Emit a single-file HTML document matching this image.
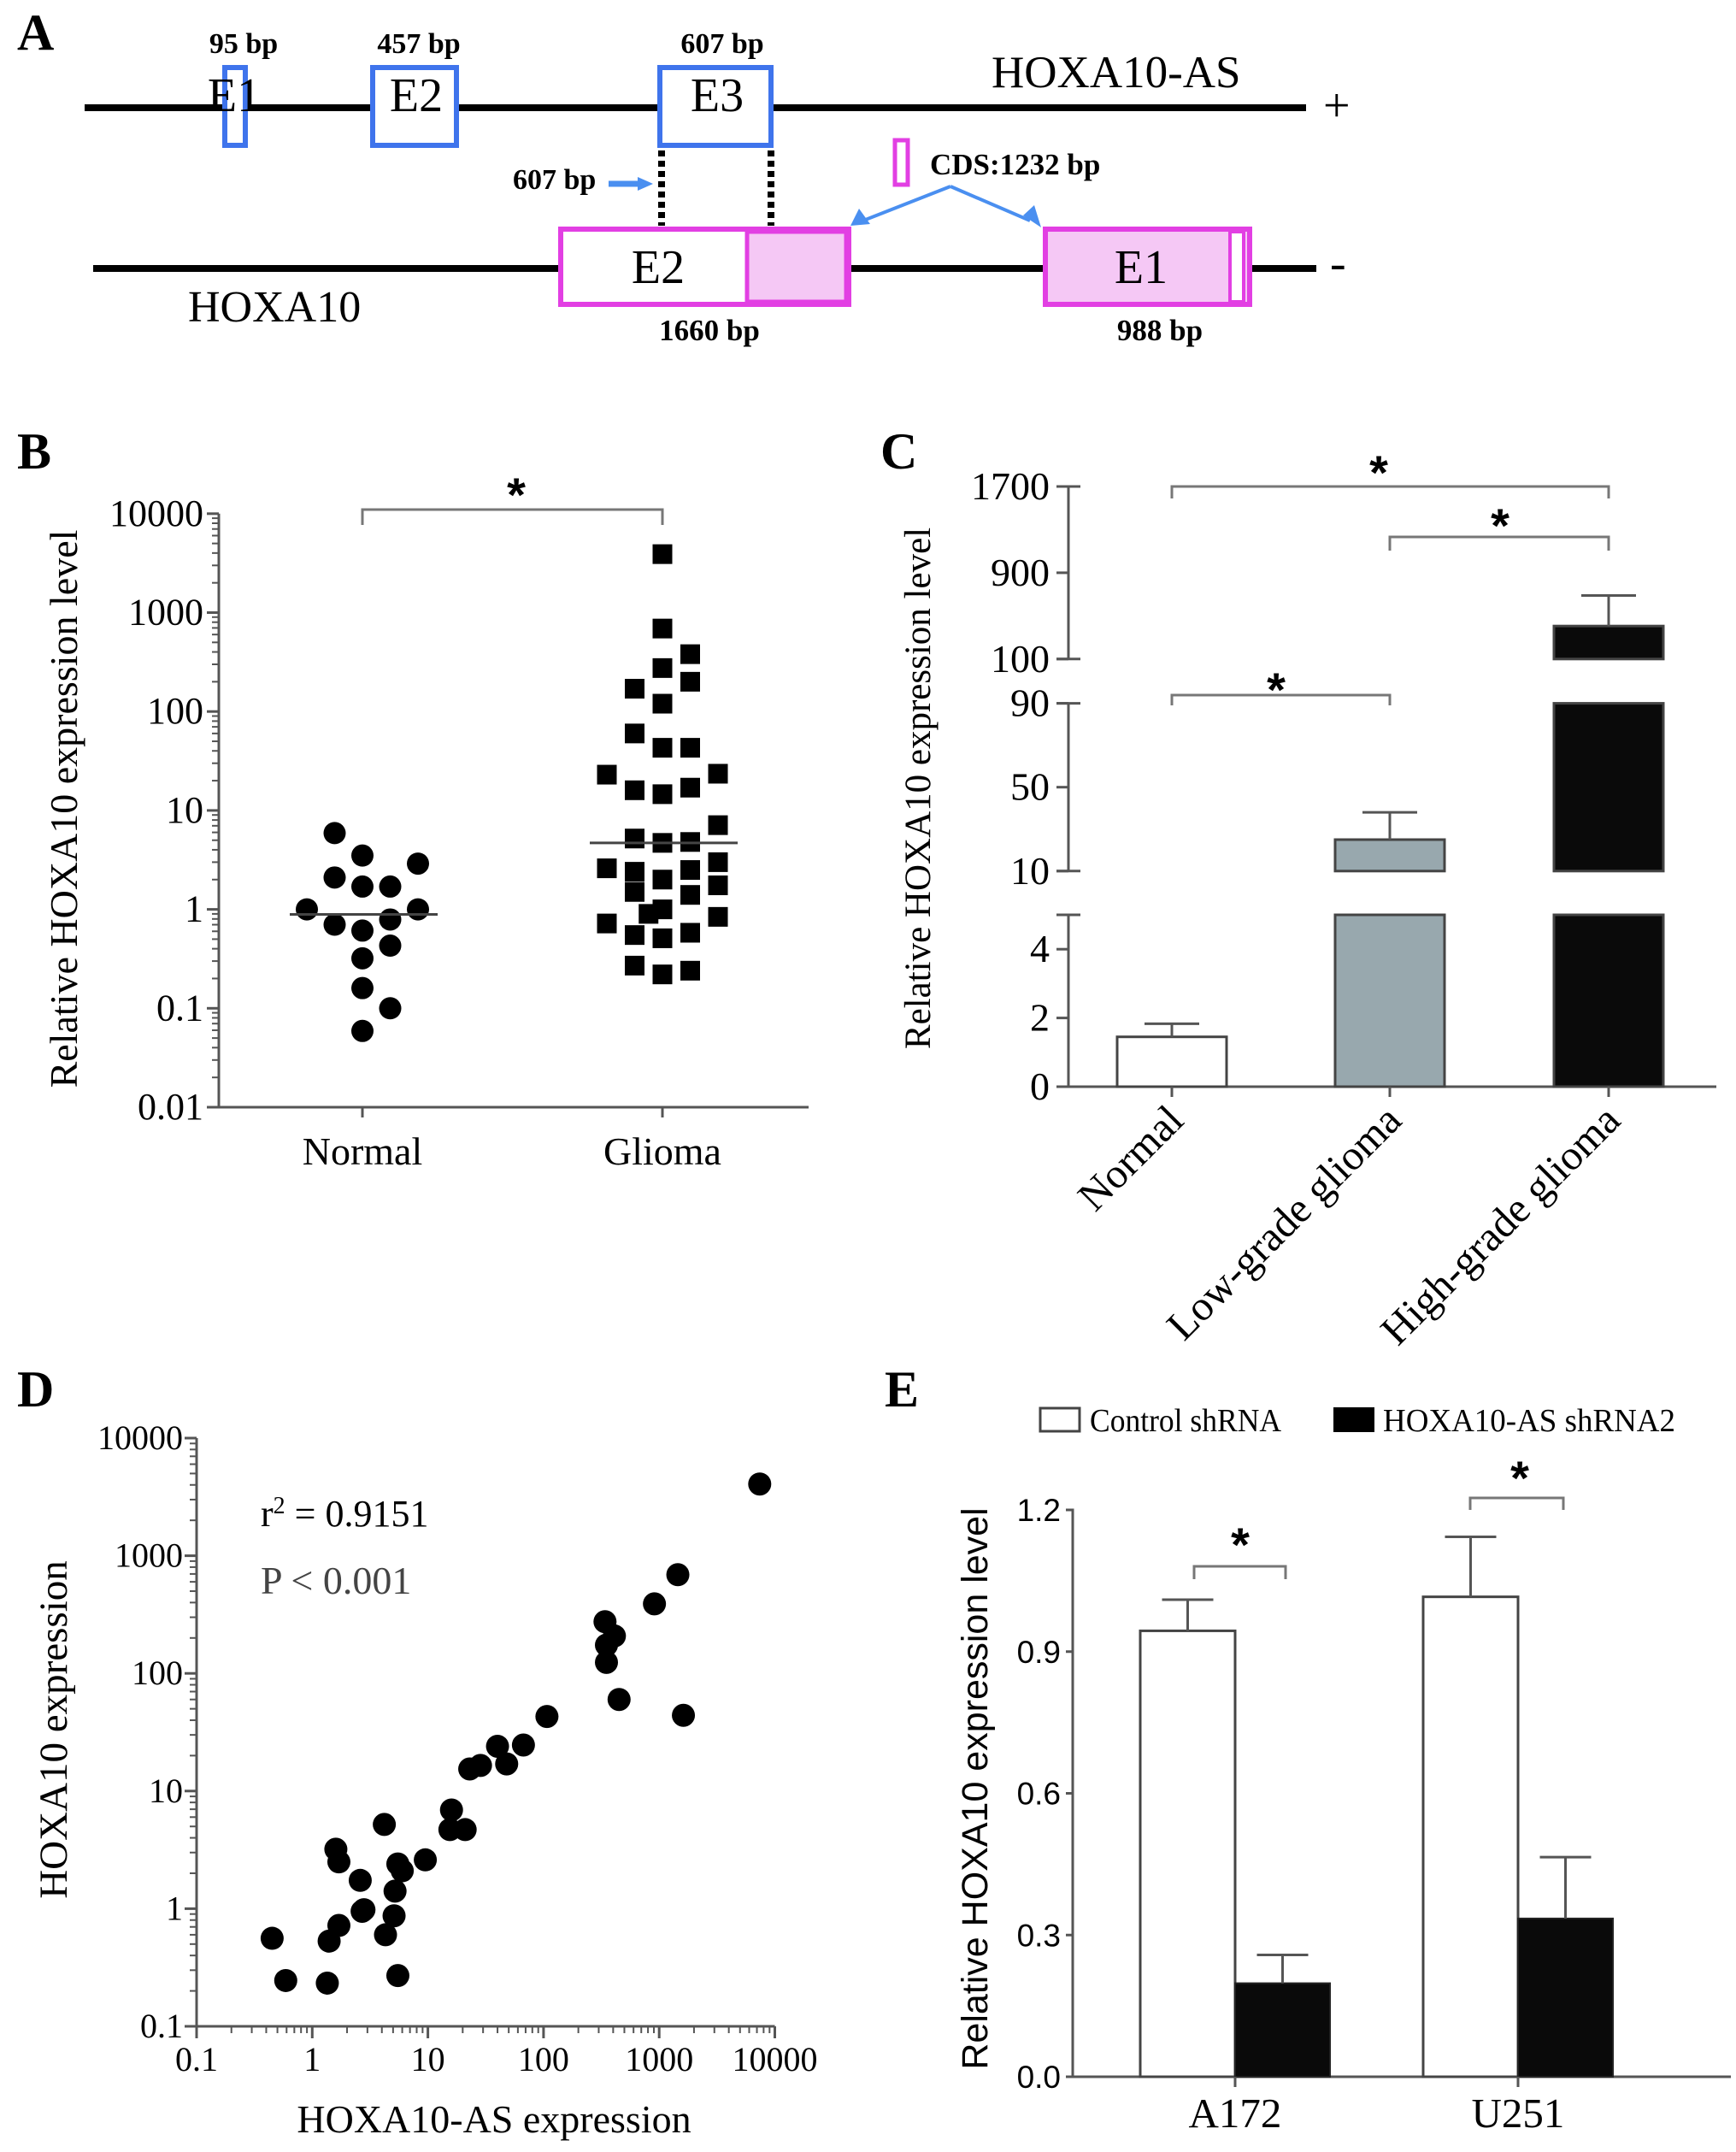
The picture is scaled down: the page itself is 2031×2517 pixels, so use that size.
<!DOCTYPE html>
<html><head><meta charset="utf-8"><style>
html,body{margin:0;padding:0;background:#fff;}
svg{display:block;font-family:"Liberation Serif",serif;}
</style></head><body>
<svg id="fig" width="2031" height="2517" viewBox="0 0 2031 2517" xmlns="http://www.w3.org/2000/svg">
<rect x="0" y="0" width="2031" height="2517" fill="#fff"/>

<!-- Panel A -->
<g>
<text x="20" y="58" font-size="60" font-weight="bold">A</text>
<line x1="99" y1="126" x2="1528" y2="126" stroke="#000" stroke-width="8"/>
<text x="1548" y="142" font-size="56">+</text>
<text x="1160" y="102" font-size="53">HOXA10-AS</text>
<rect x="263" y="79" width="24" height="91" fill="#fff" stroke="#3f74ec" stroke-width="6"/>
<rect x="436" y="79" width="98" height="91" fill="#fff" stroke="#3f74ec" stroke-width="6"/>
<rect x="772" y="79" width="130" height="91" fill="#fff" stroke="#3f74ec" stroke-width="6"/>
<text x="274" y="130" font-size="56" text-anchor="middle">E1</text>
<text x="487" y="130" font-size="56" text-anchor="middle">E2</text>
<text x="839" y="130" font-size="56" text-anchor="middle">E3</text>
<text x="285" y="62" font-size="34" font-weight="bold" text-anchor="middle">95 bp</text>
<text x="490" y="62" font-size="34" font-weight="bold" text-anchor="middle">457 bp</text>
<text x="845" y="62" font-size="34" font-weight="bold" text-anchor="middle">607 bp</text>
<line x1="774" y1="176" x2="774" y2="264" stroke="#000" stroke-width="8" stroke-dasharray="7,5"/>
<line x1="902" y1="176" x2="902" y2="264" stroke="#000" stroke-width="8" stroke-dasharray="7,5"/>
<text x="600" y="221" font-size="34" font-weight="bold">607 bp</text>
<path d="M712 215 L750 215" stroke="#4a8ff0" stroke-width="7"/>
<path d="M746 207 L764 215 L746 223 Z" fill="#4a8ff0"/>
<rect x="1047" y="164" width="15" height="52" fill="#fff" stroke="#e23fe3" stroke-width="5"/>
<text x="1088" y="204" font-size="35" font-weight="bold">CDS:1232 bp</text>
<path d="M1112 218 L1010 258 M1112 218 L1205 258" stroke="#4a8ff0" stroke-width="4" fill="none"/>
<path d="M995 264 L1005 244 L1018 262 Z" fill="#4a8ff0"/>
<path d="M1218 266 L1197 252 L1210 240 Z" fill="#4a8ff0"/>
<line x1="109" y1="314" x2="1540" y2="314" stroke="#000" stroke-width="8"/>
<text x="1556" y="326" font-size="56">-</text>
<text x="220" y="376" font-size="52">HOXA10</text>
<rect x="656" y="268" width="337" height="88" fill="#fff" stroke="#e23fe3" stroke-width="6"/>
<rect x="874" y="271" width="116" height="82" fill="#f5c8f5" stroke="#e23fe3" stroke-width="5"/>
<text x="770" y="331" font-size="56" text-anchor="middle">E2</text>
<rect x="1223" y="268" width="239" height="88" fill="#f5c8f5" stroke="#e23fe3" stroke-width="6"/>
<rect x="1439" y="271" width="16" height="82" fill="#fff" stroke="#e23fe3" stroke-width="4"/>
<text x="1335" y="331" font-size="56" text-anchor="middle">E1</text>
<text x="830" y="398" font-size="35" font-weight="bold" text-anchor="middle">1660 bp</text>
<text x="1357" y="398" font-size="35" font-weight="bold" text-anchor="middle">988 bp</text>
</g>

<g id="pB"></g>
<g id="pC"></g>
<g id="pD"></g>
<g id="pE"></g>
</svg>
<script>
// ---- Panel B data ----
const bNormalVals = [5.9,3.5,2.9,2.1,1.7,1.7,1,1,0.7,0.79,0.61,0.43,0.32,0.16,0.1,0.059];
const bNormalCols = [-1,0,2,-1,0,1,-2,2,-1,1,0,1,0,0,1,0];
const bGliomaVals = [3900,690,380,275,200,170,120,60,43,43,23,23.5,16,14.6,17,7.1,5.2,4.7,4.8,2.6,2.4,3.0,2.5,2.0,1.5,1.4,1.75,1.0,0.9,0.72,0.84,0.55,0.51,0.58,0.27,0.22,0.24];
const bGliomaCols = [0,0,1,0,1,-1,0,-1,0,1,-2,2,-1,0,1,2,-1,0,1,-2,-1,2,1,0,-1,1,2,0,-0.5,-2,2,-1,0,1,-1,0,1];
const bMedians = [0.89,4.7];
const bCategories = ["Normal","Glioma"];
const bTicks = [0.01,0.1,1,10,100,1000,10000];
const bTickLabels = ["0.01","0.1","1","10","100","1000","10000"];
// ---- Panel C data ----
const cCategories = ["Normal","Low-grade glioma","High-grade glioma"];
const cMeans = [1.45,25,406];
const cErrors = [1.83,38,689];
const cTicks = [0,2,4,10,50,90,100,900,1700];
const cTickLabels = ["0","2","4","10","50","90","100","900","1700"];
// ---- Panel D data ----
const dX = [7400,1450,910,340,410,350,350,450,1620,107,67,40,48,28.5,23,16,15.5,21,4.2,9.5,1.6,1.7,5.5,6,2.6,5.2,2.8,5.1,1.7,4.3,0.45,1.4,0.59,1.35,5.5,2.7];
const dY = [4070,690,390,275,208,174,124,60,44,43,24.6,24,17,16.5,15.4,6.9,4.7,4.7,5.2,2.6,3.2,2.5,2.4,2.1,1.74,1.41,0.98,0.87,0.72,0.6,0.56,0.53,0.245,0.233,0.27,0.95];
const dTicks = [0.1,1,10,100,1000,10000];
const dTickLabels = ["0.1","1","10","100","1000","10000"];
// ---- Panel E data ----
const eCategories = ["A172","U251"];
const eControl = [0.944,1.016];
const eControlErr = [1.01,1.143];
const eKnock = [0.198,0.335];
const eKnockErr = [0.258,0.465];
const eTicks = [0,0.3,0.6,0.9,1.2];
const eTickLabels = ["0.0","0.3","0.6","0.9","1.2"];

const NS="http://www.w3.org/2000/svg";
function mk(parent,tag,attrs,text){const e=document.createElementNS(NS,tag);for(const k in attrs)e.setAttribute(k,attrs[k]);if(text!==undefined)e.textContent=text;parent.appendChild(e);return e;}
const AX="#555";

// ================= Panel B =================
(function(){
const g=document.getElementById('pB');
const y0=1295, dec=115.7, xL=256, xR=946;
const yB=v=>y0-(Math.log10(v)+2)*dec;
const catX=[424,775]; const colW=32.5;
let t=mk(g,'text',{x:20,y:548,'font-size':60,'font-weight':'bold'},'B');


let ax=mk(g,'path',{d:`M${xL} ${yB(10000)} L${xL} ${y0} L${xR} ${y0}`,stroke:AX,'stroke-width':3,fill:'none'});


for(let d=-2;d<4;d++){for(let m=2;m<10;m++){const v=m*Math.pow(10,d);mk(g,'line',{x1:xL-8,x2:xL,y1:yB(v),y2:yB(v),stroke:AX,'stroke-width':2});}}
bTicks.forEach((v,i)=>{mk(g,'line',{x1:xL-14,x2:xL,y1:yB(v),y2:yB(v),stroke:AX,'stroke-width':3});
 const l=mk(g,'text',{x:xL-18,y:yB(v)+14,'font-size':44,'text-anchor':'end'},bTickLabels[i]);
 
 });
bCategories.forEach((c,i)=>{mk(g,'line',{x1:catX[i],x2:catX[i],y1:y0,y2:y0+12,stroke:AX,'stroke-width':3});
 const l=mk(g,'text',{x:catX[i],y:1362,'font-size':46,'text-anchor':'middle'},c);
 
 });
const yt=mk(g,'text',{x:0,y:0,'font-size':46,'text-anchor':'middle',transform:'translate(90,946) rotate(-90)'},'Relative HOXA10 expression level');


const br=mk(g,'path',{d:`M${catX[0]} 614 L${catX[0]} 596 L${catX[1]} 596 L${catX[1]} 614`,stroke:'#777','stroke-width':3,fill:'none'});


const st=mk(g,'text',{x:604,y:598,'font-size':56,'font-weight':'bold','text-anchor':'middle','font-family':'Liberation Sans'},'*');


bNormalVals.forEach((v,i)=>{const c=mk(g,'circle',{cx:catX[0]+bNormalCols[i]*colW,cy:yB(v),r:13,fill:'#000'});
 
 });
bGliomaVals.forEach((v,i)=>{const c=mk(g,'rect',{x:catX[1]+bGliomaCols[i]*colW-11.5,y:yB(v)-11.5,width:23,height:23,fill:'#000'});
 
 });
bMedians.forEach((m,i)=>{const l=mk(g,'line',{x1:catX[i]-85,x2:catX[i]+88,y1:yB(m),y2:yB(m),stroke:'#444','stroke-width':3});
 
 });
})();

// ================= Panel C =================
(function(){
const g=document.getElementById('pC');
const xA=1250, xR=2008, y0=1271;
function yC(v){ if(v<=5) return y0-v*(y0-1070)/5;
 if(v<=90) return 1018.8-(v-10)*(1018.8-822.6)/80;
 return 770.8-(v-100)*(770.8-569)/1600; }
const catX=[1371,1626,1882]; const bw=128; const fills=['#fff','#98a8ae','#0a0a0a'];
let t=mk(g,'text',{x:1030,y:548,'font-size':60,'font-weight':'bold'},'C');


[[0,5],[10,90],[100,1700]].forEach(s=>{const l=mk(g,'line',{x1:xA,x2:xA,y1:yC(s[0]),y2:yC(s[1]),stroke:AX,'stroke-width':3});
 
 
 mk(g,'line',{x1:xA-14,x2:xA+14,y1:yC(s[1]),y2:yC(s[1]),stroke:AX,'stroke-width':3});
 if(s[0]>0) mk(g,'line',{x1:xA-14,x2:xA+14,y1:yC(s[0]),y2:yC(s[0]),stroke:AX,'stroke-width':3});});
const xl=mk(g,'line',{x1:xA,x2:xR,y1:y0,y2:y0,stroke:AX,'stroke-width':3});


cTicks.forEach((v,i)=>{mk(g,'line',{x1:xA-14,x2:xA,y1:yC(v),y2:yC(v),stroke:AX,'stroke-width':3});
 const l=mk(g,'text',{x:xA-22,y:yC(v)+15,'font-size':46,'text-anchor':'end'},cTickLabels[i]);
 
 });
cMeans.forEach((v,i)=>{
 const segs=[[0,Math.min(v,5)]]; if(v>10) segs.push([10,Math.min(v,90)]); if(v>100) segs.push([100,v]);
 segs.forEach(s=>{const r=mk(g,'rect',{x:catX[i]-bw/2,y:yC(s[1]),width:bw,height:yC(s[0])-yC(s[1]),fill:fills[i],stroke:'#444','stroke-width':3});
  
  });
 const e=mk(g,'path',{d:`M${catX[i]} ${yC(v)} L${catX[i]} ${yC(cErrors[i])} M${catX[i]-32} ${yC(cErrors[i])} L${catX[i]+32} ${yC(cErrors[i])}`,stroke:'#555','stroke-width':3,fill:'none'});
 
 
 mk(g,'line',{x1:catX[i],x2:catX[i],y1:y0,y2:y0+12,stroke:AX,'stroke-width':3});
 const l=mk(g,'text',{x:0,y:0,'font-size':49,'text-anchor':'end',transform:`translate(${catX[i]+16},${y0+42}) rotate(-45)`},cCategories[i]);
 
 });
const yt=mk(g,'text',{x:0,y:0,'font-size':43,'text-anchor':'middle',transform:'translate(1088,922) rotate(-90)'},'Relative HOXA10 expression level');


[[0,2,569,583,1613,572],[1,2,628,644,1755,634],[0,1,813,825,1493,826]].forEach(b=>{
 const p=mk(g,'path',{d:`M${catX[b[0]]} ${b[3]} L${catX[b[0]]} ${b[2]} L${catX[b[1]]} ${b[2]} L${catX[b[1]]} ${b[3]}`,stroke:'#777','stroke-width':3,fill:'none'});
 
 
 const s=mk(g,'text',{x:b[4],y:b[5],'font-size':56,'font-weight':'bold','text-anchor':'middle','font-family':'Liberation Sans'},'*');
 
 });
})();

// ================= Panel D =================
(function(){
const g=document.getElementById('pD');
const xA=230, y0=2370, ydec=137.6, xdec=135.3;
const xD=v=>xA+(Math.log10(v)+1)*xdec;
const yD=v=>y0-(Math.log10(v)+1)*ydec;
let t=mk(g,'text',{x:20,y:1645,'font-size':60,'font-weight':'bold'},'D');


const ax=mk(g,'path',{d:`M${xA} ${yD(10000)} L${xA} ${y0} L${xD(10000)} ${y0}`,stroke:AX,'stroke-width':3,fill:'none'});


for(let d=-1;d<4;d++){for(let m=2;m<10;m++){const v=m*Math.pow(10,d);
 mk(g,'line',{x1:xA-8,x2:xA,y1:yD(v),y2:yD(v),stroke:AX,'stroke-width':2});
 mk(g,'line',{x1:xD(v),x2:xD(v),y1:y0,y2:y0+8,stroke:AX,'stroke-width':2});}}
dTicks.forEach((v,i)=>{
 mk(g,'line',{x1:xA-14,x2:xA,y1:yD(v),y2:yD(v),stroke:AX,'stroke-width':3});
 mk(g,'line',{x1:xD(v),x2:xD(v),y1:y0,y2:y0+14,stroke:AX,'stroke-width':3});
 const l=mk(g,'text',{x:xA-16,y:yD(v)+13,'font-size':40,'text-anchor':'end'},dTickLabels[i]);
 
 
 const l2=mk(g,'text',{x:xD(v),y:2422,'font-size':40,'text-anchor':'middle'},dTickLabels[i]);
 
 });
dX.forEach((x,i)=>{const c=mk(g,'circle',{cx:xD(x),cy:yD(dY[i]),r:13.5,fill:'#000'});
 
 });
const r2=mk(g,'text',{x:305,y:1785,'font-size':44},'');


mk(r2,'tspan',{},'r');mk(r2,'tspan',{dy:-15,'font-size':28},'2');mk(r2,'tspan',{dy:15},' = 0.9151');
const p=mk(g,'text',{x:305,y:1864,'font-size':46,fill:'#444'},'P < 0.001');


const xt=mk(g,'text',{x:578,y:2494,'font-size':46,'text-anchor':'middle'},'HOXA10-AS expression');


const yt=mk(g,'text',{x:0,y:0,'font-size':47,'text-anchor':'middle',transform:'translate(78,2023) rotate(-90)'},'HOXA10 expression');


})();

// ================= Panel E =================
(function(){
const g=document.getElementById('pE');
const xA=1255, xR=2025, y0=2429, yTop=1766;
const yE=v=>y0-v*(y0-yTop)/1.2;
const catX=[1445,1776]; const bw=111;
let t=mk(g,'text',{x:1035,y:1645,'font-size':60,'font-weight':'bold'},'E');


const ax=mk(g,'path',{d:`M${xA-8} ${yTop} L${xA} ${yTop} L${xA} ${y0} L${xR} ${y0}`,stroke:AX,'stroke-width':3,fill:'none'});


eTicks.forEach((v,i)=>{mk(g,'line',{x1:xA-8,x2:xA,y1:yE(v),y2:yE(v),stroke:AX,'stroke-width':3});
 const l=mk(g,'text',{x:xA-14,y:yE(v)+13,'font-size':37,'text-anchor':'end','font-family':'Liberation Sans'},eTickLabels[i]);
 
 });
eCategories.forEach((c,i)=>{
 const r1=mk(g,'rect',{x:catX[i]-bw,y:yE(eControl[i]),width:bw,height:y0-yE(eControl[i]),fill:'#fff',stroke:'#444','stroke-width':3});
 
 
 const r2=mk(g,'rect',{x:catX[i],y:yE(eKnock[i]),width:bw,height:y0-yE(eKnock[i]),fill:'#0a0a0a',stroke:'#222','stroke-width':2});
 
 
 const cx1=catX[i]-bw/2, cx2=catX[i]+bw/2;
 const e1=mk(g,'path',{d:`M${cx1} ${yE(eControl[i])} L${cx1} ${yE(eControlErr[i])} M${cx1-30} ${yE(eControlErr[i])} L${cx1+30} ${yE(eControlErr[i])}`,stroke:'#555','stroke-width':3,fill:'none'});
 
 
 const e2=mk(g,'path',{d:`M${cx2} ${yE(eKnock[i])} L${cx2} ${yE(eKnockErr[i])} M${cx2-30} ${yE(eKnockErr[i])} L${cx2+30} ${yE(eKnockErr[i])}`,stroke:'#555','stroke-width':3,fill:'none'});
 
 
 mk(g,'line',{x1:catX[i],x2:catX[i],y1:y0,y2:y0+12,stroke:AX,'stroke-width':3});
 const l=mk(g,'text',{x:catX[i],y:2488,'font-size':49,'text-anchor':'middle'},c);
 
 });
[[1397,1504,1832,1847,1451,1826],[1720,1829,1752,1766,1778,1748]].forEach(b=>{
 const p=mk(g,'path',{d:`M${b[0]} ${b[3]} L${b[0]} ${b[2]} L${b[1]} ${b[2]} L${b[1]} ${b[3]}`,stroke:'#777','stroke-width':3,fill:'none'});
 
 
 const s=mk(g,'text',{x:b[4],y:b[5],'font-size':56,'font-weight':'bold','text-anchor':'middle','font-family':'Liberation Sans'},'*');
 
 });
const yt=mk(g,'text',{x:0,y:0,'font-size':43,'text-anchor':'middle','font-family':'Liberation Sans',transform:'translate(1155,2092) rotate(-90)'},'Relative HOXA10 expression level');


const lg1=mk(g,'rect',{x:1217,y:1647,width:46,height:27,fill:'#fff',stroke:'#444','stroke-width':3});


const lt1=mk(g,'text',{x:1275,y:1674,'font-size':38,textLength:224,lengthAdjust:'spacingAndGlyphs'},'Control shRNA');


const lg2=mk(g,'rect',{x:1560,y:1646,width:48,height:29,fill:'#000'});


const lt2=mk(g,'text',{x:1618,y:1674,'font-size':38,textLength:342,lengthAdjust:'spacingAndGlyphs'},'HOXA10-AS shRNA2');


})();
</script>
</body></html>
